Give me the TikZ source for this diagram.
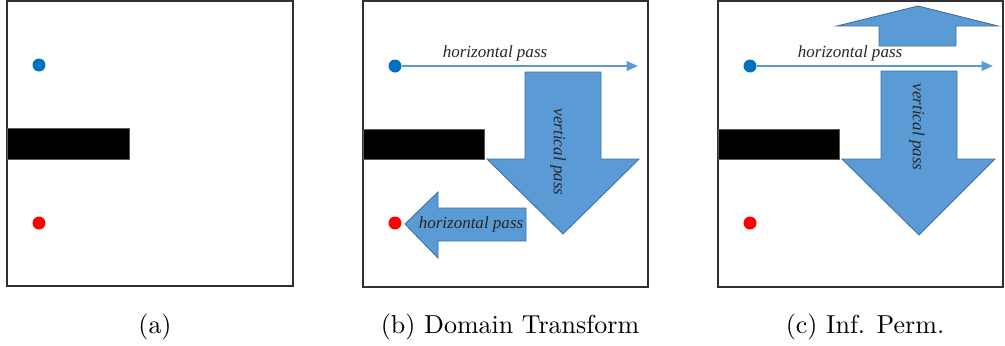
\documentclass[tikz,border=0pt]{standalone}
\usepackage{fontspec}
\newfontfamily\lblfont{Liberation Serif}
\usetikzlibrary{arrows.meta}
\definecolor{arrfill}{HTML}{5B9BD5}
\definecolor{arredge}{HTML}{41719C}
\definecolor{dotblue}{HTML}{0070C0}
\definecolor{dotred}{HTML}{FF0000}
\definecolor{framegray}{HTML}{303030}
\tikzset{
  panel/.style={draw=framegray,line width=0.55pt},
  wall/.style={fill=black,draw=gray!70!black,line width=0.3pt},
  dotnode/.style={circle,inner sep=0pt,minimum size=5pt},
  bigarrow/.style={fill=arrfill,draw=arredge,line width=0.35pt,line join=miter},
  thinarrow/.style={draw=arrfill,line width=0.9pt,-{Triangle[length=4.4pt,width=3.6pt]}},
  lbl/.style={font=\lblfont\fontsize{6.55}{8}\selectfont\itshape,text=black!85,inner sep=0pt},
  captext/.style={font=\fontsize{10}{12}\selectfont,inner sep=0pt,anchor=base}
}
\begin{document}
\begin{tikzpicture}[x=0.385pt,y=-0.385pt]
\useasboundingbox (0,0) rectangle (1005,345);
% ---------- panel (a)
\draw[panel] (7,1) rectangle (293,286);
\draw[wall] (7,128) rectangle (129,159);
\node[dotnode,fill=dotblue] (ab) at (39,65) {};
\node[dotnode,fill=dotred] (ar) at (39,223) {};
\node[captext] (capa) at (155,333) {(a)};
% ---------- panel (b)
\draw[panel] (363,1) rectangle (648,287);
\draw[wall] (363,129) rectangle (484,159);
\draw[bigarrow] (525,72) -- (601,72) -- (601,159) -- (639,159) -- (563,234) -- (487,159) -- (525,159) -- cycle;
\draw[bigarrow] (526,208) -- (438,208) -- (438,192) -- (405,224) -- (438,258) -- (438,241) -- (526,241) -- cycle;
\node[dotnode,fill=dotblue] (bb) at (395,66) {};
\node[dotnode,fill=dotred] (br) at (395,223) {};
\coordinate (bend) at (638,66);
\draw[thinarrow] (bb) -- (bend);
\node[lbl] (bh1) at (495,53) {horizontal pass};
\node[lbl] (bh2) at (471,224) {horizontal pass};
\node[lbl,rotate=-90] (bv) at (558,152) {vertical pass};
\node[captext] (capb) at (510,333) {(b) Domain Transform};
% ---------- panel (c)
\draw[panel] (718,1) rectangle (1003,287);
\draw[wall] (718,129) rectangle (839,159);
\draw[bigarrow] (879,46) -- (956,46) -- (956,26) -- (998,26) -- (918,6) -- (837,26) -- (879,26) -- cycle;
\draw[bigarrow] (881,71) -- (957,71) -- (957,159) -- (995,159) -- (919,235) -- (842,159) -- (881,159) -- cycle;
\node[dotnode,fill=dotblue] (cb) at (750,66) {};
\node[dotnode,fill=dotred] (cr) at (750,223) {};
\coordinate (cend) at (993,66);
\draw[thinarrow] (cb) -- (cend);
\node[lbl] (ch1) at (850,53) {horizontal pass};
\node[lbl,rotate=-90] (cv) at (917,127) {vertical pass};
\node[captext] (capc) at (865,333) {(c) Inf. Perm.};
\end{tikzpicture}
\end{document}
